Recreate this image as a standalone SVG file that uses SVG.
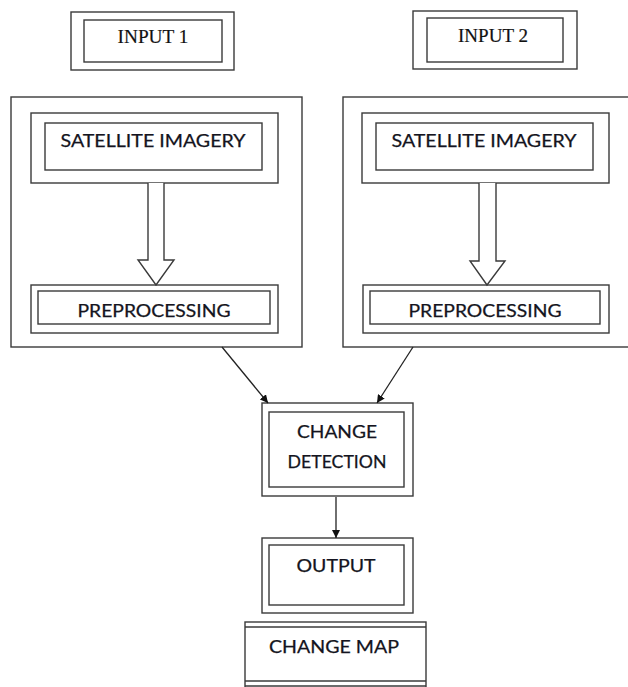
<svg xmlns="http://www.w3.org/2000/svg" width="628" height="687" viewBox="0 0 628 687">
<defs>
<style>
.b{fill:#fff;stroke:#3a3a3a;stroke-width:1.4}
.n{fill:none;stroke:#3a3a3a;stroke-width:1.4}
.s{font-family:Lato,"Open Sans",sans-serif;font-size:18px;fill:#141420;stroke:#141420;stroke-width:0.25;text-anchor:middle}
.t{font-family:"Liberation Serif","Times New Roman",serif;font-size:19px;fill:#111;stroke:#111;stroke-width:0.2;text-anchor:middle}
.c{fill:none;stroke:#222;stroke-width:1.3}
</style>
<marker id="ah" viewBox="0 0 10 10" refX="10" refY="5" markerWidth="8" markerHeight="8" markerUnits="userSpaceOnUse" orient="auto">
<path d="M0,0 L10,5 L0,10 z" fill="#111"/>
</marker>
</defs>
<rect width="628" height="687" fill="#fff"/>

<g id="input1">
<rect class="b" x="71" y="12" width="163" height="58"/>
<rect class="b" x="84" y="20" width="138" height="42"/>
<text class="t" x="153" y="43" textLength="71" lengthAdjust="spacingAndGlyphs">INPUT 1</text>
</g>

<g id="input2">
<rect class="b" x="413" y="11" width="164" height="58"/>
<rect class="b" x="427" y="18" width="136" height="44"/>
<text class="t" x="493" y="42" textLength="70" lengthAdjust="spacingAndGlyphs">INPUT 2</text>
</g>

<g id="group1">
<rect class="b" x="11" y="97" width="291" height="250"/>
<g id="sat1">
<rect class="b" x="31" y="113" width="247" height="70"/>
<rect class="b" x="45" y="123" width="217" height="47"/>
<text class="s" x="153" y="147" textLength="185" lengthAdjust="spacingAndGlyphs">SATELLITE IMAGERY</text>
</g>
<g id="pre1">
<rect class="b" x="31" y="285" width="247" height="48"/>
<rect class="b" x="38" y="291" width="232" height="33"/>
<text class="s" x="154" y="317" textLength="153" lengthAdjust="spacingAndGlyphs">PREPROCESSING</text>
</g>
</g>

<g id="group2">
<rect class="b" x="343" y="97" width="290" height="250"/>
<g id="sat2">
<rect class="b" x="362" y="113" width="247" height="70"/>
<rect class="b" x="376" y="123" width="217" height="47"/>
<text class="s" x="484" y="147" textLength="185" lengthAdjust="spacingAndGlyphs">SATELLITE IMAGERY</text>
</g>
<g id="pre2">
<rect class="b" x="363" y="285" width="246" height="48"/>
<rect class="b" x="370" y="291" width="230" height="33"/>
<text class="s" x="485" y="317" textLength="153" lengthAdjust="spacingAndGlyphs">PREPROCESSING</text>
</g>
</g>

<g id="change-detection">
<rect class="b" x="262" y="403" width="151" height="93"/>
<rect class="b" x="269" y="412" width="135" height="75"/>
<text class="s" x="337" y="438" textLength="80" lengthAdjust="spacingAndGlyphs">CHANGE</text>
<text class="s" x="337" y="468" textLength="99" lengthAdjust="spacingAndGlyphs">DETECTION</text>
</g>

<g id="output">
<rect class="b" x="262" y="538" width="151" height="75"/>
<rect class="b" x="269" y="545" width="135" height="60"/>
<text class="s" x="336" y="572" textLength="79" lengthAdjust="spacingAndGlyphs">OUTPUT</text>
</g>

<g id="change-map">
<rect class="b" x="245" y="622" width="181" height="70"/>
<line class="n" x1="245" y1="627" x2="426" y2="627"/>
<line class="n" x1="245" y1="681" x2="426" y2="681"/>
<line class="n" x1="245" y1="686" x2="426" y2="686"/>
<text class="s" x="334" y="653" textLength="130" lengthAdjust="spacingAndGlyphs">CHANGE MAP</text>
</g>

<g id="connectors">
<path class="b" d="M148,183 L148,260 L138,260 L156,285 L174,260 L164,260 L164,183"/>
<path class="b" d="M479,183 L479,261 L470,261 L487,285 L505,261 L496,261 L496,183"/>
<line class="c" x1="222" y1="347" x2="268" y2="403" marker-end="url(#ah)"/>
<line class="c" x1="413" y1="347" x2="377" y2="403" marker-end="url(#ah)"/>
<line class="c" x1="336" y1="497" x2="336" y2="538" marker-end="url(#ah)"/>
</g>
</svg>
